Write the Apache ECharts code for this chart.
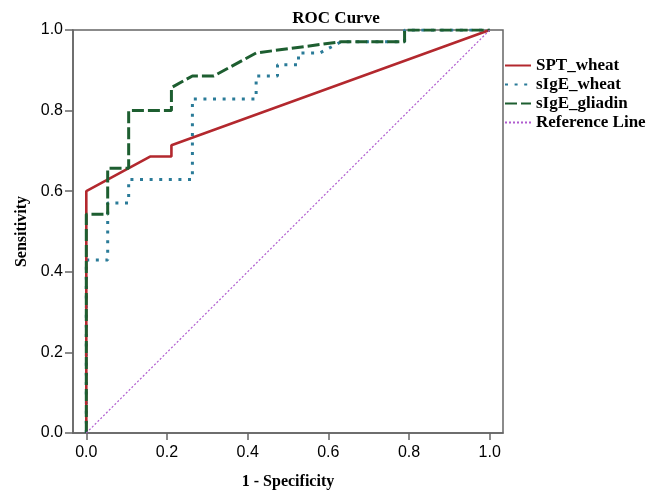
<!DOCTYPE html>
<html>
<head>
	<meta charset="utf-8"/>
	<title>ROC Curve</title>
	<style>
		html, body { margin: 0; padding: 0; background: #fff; }
	</style>
</head>
<body>

	<div id="chart" style="width: 648px; height: 490px;"></div>

	<script src="https://cdn.jsdelivr.net/npm/echarts@6/dist/echarts.min.js"></script>
	<script>

		// [1 - specificity, sensitivity]
		var sptWheat = [[0, 0], [0, 0.6], [0.158, 0.686], [0.211, 0.686], [0.211, 0.714], [1, 1]];
		var sigeWheat = [[0, 0], [0, 0.429], [0.053, 0.429], [0.053, 0.571], [0.105, 0.571], [0.105, 0.629],
			[0.263, 0.629], [0.263, 0.829], [0.421, 0.829], [0.421, 0.886], [0.474, 0.886], [0.474, 0.914],
			[0.526, 0.914], [0.526, 0.943], [0.579, 0.943], [0.632, 0.971], [0.789, 0.971], [0.789, 1], [1, 1]];
		var sigeGliadin = [[0, 0], [0, 0.543], [0.053, 0.543], [0.053, 0.657], [0.105, 0.657], [0.105, 0.8],
			[0.211, 0.8], [0.211, 0.857], [0.263, 0.886], [0.316, 0.886], [0.421, 0.943], [0.632, 0.971],
			[0.789, 0.971], [0.789, 1], [1, 1]];
		var referenceLine = [[0, 0], [1, 1]];

		var tickValues = [0, 0.2, 0.4, 0.6, 0.8, 1.0];
		var legendNames = ['SPT_wheat', 'sIgE_wheat', 'sIgE_gliadin', 'Reference Line'];

		var serif = '"Liberation Serif", "DejaVu Serif", serif';
		var sans = '"Liberation Sans", Arial, sans-serif';
		var frameColor = '#666';

		var myChart = echarts.init(document.getElementById('chart'));

		var option = {
			animation: false,
			title: {
				text: 'ROC Curve',
				left: 331,
				top: 5,
				textAlign: 'center',
				textStyle: { fontFamily: serif, fontSize: 17, fontWeight: 'bold', color: '#000' }
			},
			legend: {
				data: legendNames,
				orient: 'vertical',
				left: 504,
				top: 57,
				padding: 0,
				itemWidth: 26,
				itemHeight: 10,
				itemGap: 2,
				itemStyle: { opacity: 0 },
				textStyle: { fontFamily: serif, fontSize: 17, fontWeight: 'bold', color: '#000' }
			},
			grid: {
				left: 73,
				right: 145,
				top: 30,
				bottom: 57,
				show: true,
				borderColor: frameColor,
				borderWidth: 1.5,
				containLabel: false,
				outerBoundsMode: 'none'
			},
			xAxis: {
				type: 'value',
				min: -0.033,
				max: 1.033,
				name: '1 - Specificity',
				nameLocation: 'middle',
				nameGap: 41,
				nameTextStyle: { fontFamily: serif, fontSize: 16, fontWeight: 'bold', color: '#000' },
				axisLine: { show: true, onZero: false, lineStyle: { color: frameColor, width: 1.5 } },
				axisTick: { show: true, inside: false, length: 7, customValues: tickValues, lineStyle: { color: frameColor, width: 1.5 } },
				axisLabel: {
					customValues: tickValues,
					margin: 12,
					fontFamily: sans, fontSize: 16, color: '#000',
					formatter: function (v) { return v.toFixed(1); }
				},
				splitLine: { show: false }
			},
			yAxis: {
				type: 'value',
				min: 0,
				max: 1,
				interval: 0.2,
				name: 'Sensitivity',
				nameLocation: 'middle',
				nameGap: 39,
				nameTextStyle: { fontFamily: serif, fontSize: 16, fontWeight: 'bold', color: '#000' },
				axisLine: { show: true, onZero: false, lineStyle: { color: frameColor, width: 1.5 } },
				axisTick: { show: true, inside: false, length: 8, lineStyle: { color: frameColor, width: 1.5 } },
				axisLabel: {
					margin: 10,
					fontFamily: sans, fontSize: 16, color: '#000',
					formatter: function (v) { return v.toFixed(1); }
				},
				splitLine: { show: false }
			},
			series: [
				{
					name: 'sIgE_wheat',
					type: 'line',
					data: sigeWheat,
					symbol: 'none',
					itemStyle: { color: '#2a7b98' },
					lineStyle: { color: '#2a7b98', width: 3, type: [3, 6.6] }
				},
				{
					name: 'SPT_wheat',
					type: 'line',
					data: sptWheat,
					symbol: 'none',
					itemStyle: { color: '#b3282e' },
					lineStyle: { color: '#b3282e', width: 2.6 }
				},
				{
					name: 'sIgE_gliadin',
					type: 'line',
					data: sigeGliadin,
					symbol: 'none',
					itemStyle: { color: '#1d5e30' },
					lineStyle: { color: '#1d5e30', width: 3, type: [12, 4] }
				},
				{
					name: 'Reference Line',
					type: 'line',
					data: referenceLine,
					symbol: 'none',
					itemStyle: { color: '#b05ccf' },
					lineStyle: { color: '#b05ccf', width: 1.2, type: [2, 2] }
				}
			]
		};

		myChart.setOption(option);

	</script>
</body>
</html>
